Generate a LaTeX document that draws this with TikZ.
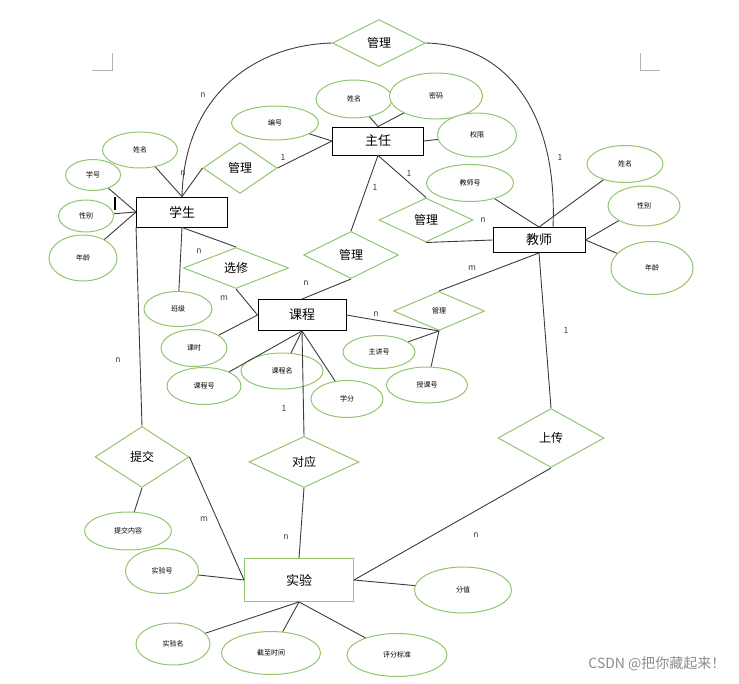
\documentclass[tikz,border=0pt]{standalone}
\usepackage{fontspec}
\setmainfont{Noto Sans CJK SC}
\usetikzlibrary{shapes.geometric}
\definecolor{erGreen}{RGB}{146,198,110}
\definecolor{erLine}{RGB}{60,60,60}
\begin{document}
\begin{tikzpicture}[x=1pt, y=-1pt,
  ent/.style={rectangle, draw=black, line width=0.9pt, fill=white, inner sep=0pt, font=\fontsize{13}{13}\selectfont},
  rel/.style={diamond, draw=erGreen, line width=1pt, fill=white, inner sep=0pt, font=\fontsize{12}{12}\selectfont},
  attr/.style={ellipse, draw=erGreen, line width=1pt, fill=white, inner sep=0pt, font=\fontsize{7}{7}\selectfont},
  link/.style={draw=erLine, line width=0.9pt},
  card/.style={font=\fontsize{8.5}{8.5}\selectfont, text=erLine, inner sep=1pt}
]
  \useasboundingbox (0,0) rectangle (739,683);

  % page corner marks
  \draw[black!30, line width=0.6pt] (92,70) -- (112,70) -- (112,53);
  \draw[black!30, line width=0.6pt] (640,53) -- (640,70) -- (660,70);

  % entities
  \node[ent, minimum width=91, minimum height=30] (xs) at (182,212) {学生};
  \node[ent, minimum width=91, minimum height=28] (zr) at (378,141) {主任};
  \node[ent, minimum width=92, minimum height=25] (js) at (539,240) {教师};
  \node[ent, minimum width=88, minimum height=31] (kc) at (302,315) {课程};
  \node[ent, draw=erGreen, minimum width=109, minimum height=43] (sy) at (299,580) {实验};

  % relationships
  \node[rel, minimum width=93, minimum height=47] (glTop) at (379,43) {管理};
  \node[rel, minimum width=74, minimum height=51] (glXz) at (240,168) {管理};
  \node[rel, minimum width=94, minimum height=44] (glZj) at (426,220) {管理};
  \node[rel, minimum width=95, minimum height=47] (glZk) at (351,255) {管理};
  \node[rel, minimum width=105, minimum height=41] (xx) at (236,268) {选修};
  \node[rel, minimum width=91, minimum height=39, font=\fontsize{7}{7}\selectfont] (glKj) at (439,311) {管理};
  \node[rel, minimum width=94, minimum height=61] (tj) at (142,457) {提交};
  \node[rel, minimum width=110, minimum height=51] (dy) at (304,462) {对应};
  \node[rel, minimum width=106, minimum height=59] (sc) at (551,438) {上传};

  % attributes of 学生
  \node[attr, minimum width=75, minimum height=36] (xsName) at (140,150) {姓名};
  \node[attr, minimum width=55, minimum height=31] (xsNo) at (93,175) {学号};
  \node[attr, minimum width=55, minimum height=32] (xsSex) at (86,216) {性别};
  \node[attr, minimum width=68, minimum height=46] (xsAge) at (83,258) {年龄};
  \node[attr, minimum width=68, minimum height=35] (xsClass) at (178,309) {班级};

  % attributes of 主任
  \node[attr, minimum width=87, minimum height=34] (zrNo) at (275,123) {编号};
  \node[attr, minimum width=76, minimum height=38] (zrName) at (354,99) {姓名};
  \node[attr, minimum width=93, minimum height=46] (zrPwd) at (436,96) {密码};
  \node[attr, minimum width=79, minimum height=44] (zrAuth) at (477,135) {权限};

  % attributes of 教师
  \node[attr, minimum width=87, minimum height=37] (jsNo) at (470,183) {教师号};
  \node[attr, minimum width=76, minimum height=37] (jsName) at (625,164) {姓名};
  \node[attr, minimum width=72, minimum height=40] (jsSex) at (644,206) {性别};
  \node[attr, minimum width=82, minimum height=53] (jsAge) at (652,268) {年龄};

  % attributes of 课程
  \node[attr, minimum width=66, minimum height=37] (kcHour) at (194,348) {课时};
  \node[attr, minimum width=74, minimum height=37] (kcNo) at (204,386) {课程号};
  \node[attr, minimum width=82, minimum height=36] (kcName) at (282,371) {课程名};
  \node[attr, minimum width=72, minimum height=37] (kcCredit) at (347,399) {学分};
  \node[attr, minimum width=72, minimum height=33] (kcLect) at (379,352) {主讲号};
  \node[attr, minimum width=81, minimum height=36] (kcTeach) at (427,385) {授课号};

  % attributes of 实验
  \node[attr, minimum width=87, minimum height=38] (tjCont) at (128,531) {提交内容};
  \node[attr, minimum width=73, minimum height=45] (syNo) at (162,571) {实验号};
  \node[attr, minimum width=74, minimum height=42] (syName) at (173,644) {实验名};
  \node[attr, minimum width=99, minimum height=43] (syDdl) at (271,653) {截至时间};
  \node[attr, minimum width=100, minimum height=43] (syStd) at (397,655) {评分标准};
  \node[attr, minimum width=97, minimum height=46] (syScore) at (463,590) {分值};

  % connectors
  \draw[link] (xs.north) .. controls (184,95) and (255,45) .. (glTop.west);
  \draw[link] (glTop.east) .. controls (505,45) and (558,110) .. ([xshift=14pt]js.north);
  \draw[link] (xsName) -- (xs.north);
  \draw[link] (glXz.west) -- (xs.north);
  \draw[link] (glXz.east) -- (zr.west);
  \draw[link] (xsNo) -- (xs.west);
  \draw[link] (xsSex) -- (xs.west);
  \draw[link] (xsAge) -- (xs.west);
  \draw[link] (xs.south west) -- (tj.north);
  \draw[link] (xs.south) -- (xsClass);
  \draw[link] (xs.south) -- (xx.north);
  \draw[link] (xx.south) -- (kc.west);
  \draw[link] (kcHour) -- (kc.west);
  \draw[link] (kcNo) -- (kc.south);
  \draw[link] (kcName) -- (kc.south);
  \draw[link] (kcCredit) -- (kc.south);
  \draw[link] (kc.south) -- (dy.north);
  \draw[link] (dy.south) -- (sy.north);
  \draw[link] (tj.south) -- (tjCont);
  \draw[link] (tj.east) -- (sy.west);
  \draw[link] (syNo) -- (sy.west);
  \draw[link] (sy.south) -- (syName);
  \draw[link] (sy.south) -- (syDdl);
  \draw[link] (sy.south) -- (syStd);
  \draw[link] (sy.east) -- (syScore);
  \draw[link] (sc.south) -- (sy.east);
  \draw[link] (sc.north) -- (js.south);
  \draw[link] (js.south) -- (glKj.north);
  \draw[link] (kc.east) -- (glKj.south);
  \draw[link] (kcLect) -- (glKj.south);
  \draw[link] (kcTeach) -- (glKj.south);
  \draw[link] (jsNo) -- (js.north);
  \draw[link] (jsName) -- (js.north);
  \draw[link] (jsSex) -- (js.east);
  \draw[link] (jsAge) -- (js.east);
  \draw[link] (zr.south) -- (glZj.north);
  \draw[link] (glZj.south) -- (js.west);
  \draw[link] (zr.south) -- (glZk.north);
  \draw[link] (glZk.south) -- (kc.north);
  \draw[link] (zrNo) -- (zr.west);
  \draw[link] (zrName) -- (zr.north);
  \draw[link] (zrPwd) -- (zr.north);
  \draw[link] (zr.east) -- (zrAuth);

  % stray bar beside 学生
  \draw[line width=1.5pt] (115,197) -- (115,210);

  % cardinalities
  \node[card] (c1) at (183,173) {n};
  \node[card] (c2) at (203,95) {n};
  \node[card] (c3) at (283,157) {1};
  \node[card] (c4) at (375,187) {1};
  \node[card] (c5) at (409,173) {1};
  \node[card] (c6) at (483,220) {n};
  \node[card] (c7) at (560,157) {1};
  \node[card] (c8) at (199,251) {n};
  \node[card] (c9) at (224,298) {m};
  \node[card] (c10) at (306,283) {n};
  \node[card] (c11) at (472,268) {m};
  \node[card] (c12) at (376,314) {n};
  \node[card] (c13) at (566,330) {1};
  \node[card] (c14) at (118,360) {n};
  \node[card] (c15) at (284,408) {1};
  \node[card] (c16) at (204,519) {m};
  \node[card] (c17) at (286,537) {n};
  \node[card] (c18) at (476,535) {n};

  % watermark
  \node[text=black!45, font=\fontsize{14}{14}\selectfont, anchor=east] (wm) at (729,664) {CSDN @把你藏起来！};
\end{tikzpicture}
\end{document}
